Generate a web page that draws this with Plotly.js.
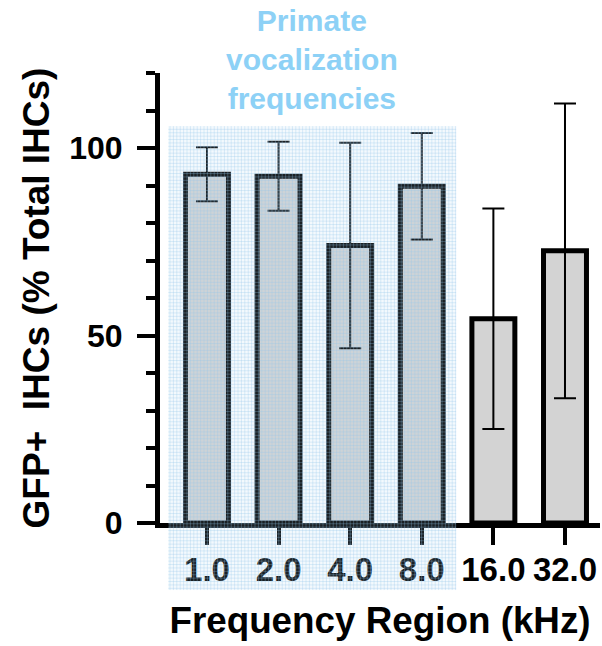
<!DOCTYPE html>
<html>
<head>
<meta charset="utf-8">
<script src="https://cdn.plot.ly/plotly-3.0.1.min.js"></script>
<style>
  html, body { margin: 0; padding: 0; background: #ffffff; }
  #chart { width: 602px; height: 646px; }
</style>
</head>
<body>
<div id="chart"></div>
<script>
// ---- data ----
const categories = ['1.0', '2.0', '4.0', '8.0', '16.0', '32.0'];
const meanValues = [93.0, 92.5, 74.0, 89.8, 54.5, 72.6];
const errorValues = [7.2, 9.2, 27.4, 14.2, 29.4, 39.3];
const yTickValues = [0, 50, 100];
const yTickLabels = ['0', '50', '100'];
const highlightedCategories = ['1.0', '2.0', '4.0', '8.0'];
const highlightLabel = 'Primate<br>vocalization<br>frequencies';
const xTitle = 'Frequency Region (kHz)';
const yTitle = 'GFP+  IHCs (% Total IHCs)';

const FONT = '"Liberation Sans", Arial, Helvetica, sans-serif';

const firstIdx = categories.indexOf(highlightedCategories[0]);
const lastIdx = categories.indexOf(highlightedCategories[highlightedCategories.length - 1]);
const regionX0 = firstIdx - 0.54;
const regionX1 = lastIdx + 0.48;
const regionY0 = -0.149, regionY1 = 0.882;   // paper units

const trace = {
  type: 'bar',
  x: categories,
  y: meanValues,
  width: 0.6,
  marker: { color: '#d3d3d3', line: { color: '#000000', width: 5 } },
  error_y: { type: 'data', array: errorValues, visible: true, color: '#000000', thickness: 2, width: 11 },
  hoverinfo: 'skip',
  showlegend: false
};

// translucent blue highlight region with a fine grid texture
const shapes = [{
  type: 'rect', layer: 'above',
  xref: 'x', yref: 'paper',
  x0: regionX0, x1: regionX1, y0: regionY0, y1: regionY1,
  fillcolor: 'rgba(175,215,240,0.15)',
  line: { width: 0 }
}];
const gridStepX = 3.4 / 71.6;   // ~3.4 px in category units
const gridStepY = 3.4 / 450;    // ~3.4 px in paper units
const gridColor = 'rgba(150,200,235,0.30)';
for (let gx = regionX0 + gridStepX / 2; gx < regionX1; gx += gridStepX) {
  shapes.push({ type: 'line', layer: 'above', xref: 'x', yref: 'paper',
    x0: gx, x1: gx, y0: regionY0, y1: regionY1, line: { color: gridColor, width: 1 } });
}
for (let gy = regionY0 + gridStepY / 2; gy < regionY1; gy += gridStepY) {
  shapes.push({ type: 'line', layer: 'above', xref: 'x', yref: 'paper',
    x0: regionX0, x1: regionX1, y0: gy, y1: gy, line: { color: gridColor, width: 1 } });
}

const layout = {
  width: 602,
  height: 646,
  margin: { l: 160, r: 2, t: 73, b: 123 },
  paper_bgcolor: '#ffffff',
  plot_bgcolor: '#ffffff',
  font: { family: FONT, color: '#000000', weight: 700 },
  showlegend: false,
  xaxis: {
    type: 'category',
    categoryorder: 'array',
    categoryarray: categories,
    range: [-0.656, 5.489],
    showline: true, linecolor: '#000000', linewidth: 5,
    showgrid: false, zeroline: false,
    ticks: 'outside', ticklen: 17, tickwidth: 4, tickcolor: '#000000',
    tickfont: { family: FONT, size: 33, color: '#000000', weight: 700 },
    ticklabelstandoff: -4,
    title: { text: xTitle, font: { family: FONT, size: 36.8, color: '#000000', weight: 700 }, standoff: 22 }
  },
  yaxis: {
    range: [0, 120],
    tickmode: 'array', tickvals: yTickValues, ticktext: yTickLabels,
    showline: true, linecolor: '#000000', linewidth: 5,
    showgrid: false, zeroline: false,
    ticks: 'outside', ticklen: 18, tickwidth: 4, tickcolor: '#000000',
    minor: { dtick: 10, tick0: 0, ticks: 'outside', ticklen: 9, tickwidth: 4, tickcolor: '#000000', showgrid: false },
    tickfont: { family: FONT, size: 32, color: '#000000', weight: 700 },
    ticklabelstandoff: 8,
    title: { text: yTitle, font: { family: FONT, size: 37, color: '#000000', weight: 700 }, standoff: 10 }
  },
  shapes: shapes,
  annotations: [{
    xref: 'x', yref: 'paper',
    x: (regionX0 + regionX1) / 2, y: 1.03,
    xanchor: 'center', yanchor: 'middle',
    text: highlightLabel, showarrow: false, align: 'center',
    font: { family: FONT, size: 30, color: '#8dd1f6', weight: 700 }
  }]
};

Plotly.newPlot('chart', [trace], layout, { displayModeBar: false, staticPlot: true });
</script>
</body>
</html>
